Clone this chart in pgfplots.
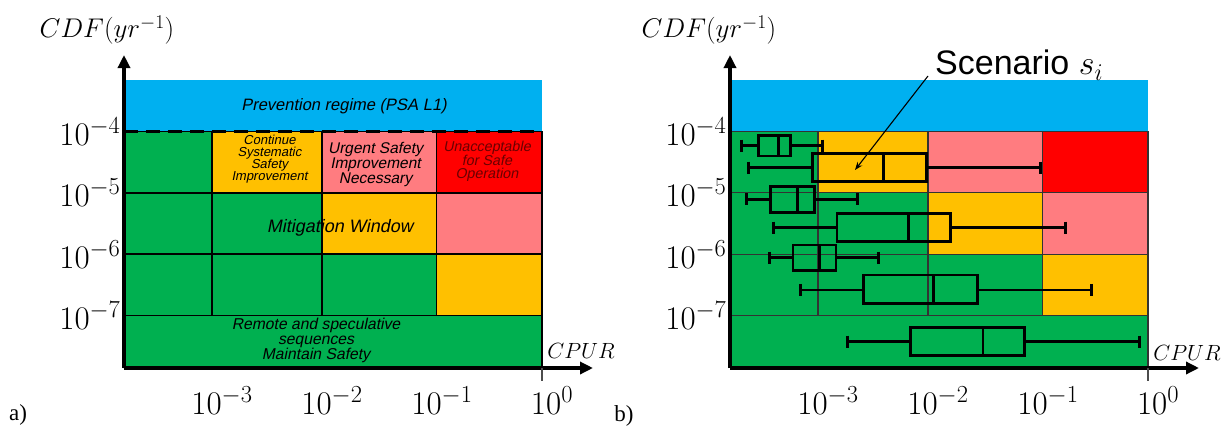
\RequirePackage{fix-cm}
\documentclass[border=0pt]{standalone}
\usepackage{pgfplots}
\pgfplotsset{compat=1.18}
\usepackage{fontspec}
\usetikzlibrary{arrows.meta}
\DeclareMathSizes{33}{33}{24.5}{17}
\DeclareMathSizes{27}{27}{19.5}{14}
\DeclareMathSizes{22}{22}{16}{11}
\DeclareMathSizes{34}{34}{24}{17}
\newfontfamily\arial{Liberation Sans}
\newfontfamily\arialit{Liberation Sans}[FakeSlant=0.2]
\newfontfamily\tnr{Liberation Serif}
\definecolor{cblue}{HTML}{00B0F0}
\definecolor{cgreen}{HTML}{00B050}
\definecolor{corange}{HTML}{FFC000}
\definecolor{cpink}{HTML}{FF7C80}
\definecolor{cred}{HTML}{FF0000}
\definecolor{cdred}{HTML}{6A0000}

% one cell of the risk map: xlo, xhi, ylo, yhi, colour, line options
\newcommand{\cell}[6]{\addplot[fill=#5, #6] coordinates {(#1,#3) (#2,#3) (#2,#4) (#1,#4)} -- cycle;}

\newcommand{\riskmap}[1]{%
  \addplot[fill=cblue, draw=none] coordinates {(1e-4,1e-4) (1,1e-4) (1,6.918e-4) (1e-4,6.918e-4)} -- cycle;
  \cell{1e-4}{1e-3}{1e-5}{1e-4}{cgreen}{#1}
  \cell{1e-3}{1e-2}{1e-5}{1e-4}{corange}{#1}
  \cell{1e-2}{0.11}{1e-5}{1e-4}{cpink}{#1}
  \cell{0.11}{1}{1e-5}{1e-4}{cred}{#1}
  \cell{1e-4}{1e-3}{1e-6}{1e-5}{cgreen}{#1}
  \cell{1e-3}{1e-2}{1e-6}{1e-5}{cgreen}{#1}
  \cell{1e-2}{0.11}{1e-6}{1e-5}{corange}{#1}
  \cell{0.11}{1}{1e-6}{1e-5}{cpink}{#1}
  \cell{1e-4}{1e-3}{1e-7}{1e-6}{cgreen}{#1}
  \cell{1e-3}{1e-2}{1e-7}{1e-6}{cgreen}{#1}
  \cell{1e-2}{0.11}{1e-7}{1e-6}{cgreen}{#1}
  \cell{0.11}{1}{1e-7}{1e-6}{corange}{#1}
  \cell{1e-4}{1}{1e-9}{1e-7}{cgreen}{#1}
}

% horizontal box plot: whisker low, q1, median, q3, whisker high, box bottom, centre, box top
\newcommand{\bx}[8]{%
  \addplot[line width=2.8pt, mark=|, mark size=6pt, mark options={solid, line width=2.8pt}] coordinates {(#1,#7) (#2,#7)};
  \addplot[line width=2.8pt, mark=|, mark size=6pt, mark options={solid, line width=2.8pt}] coordinates {(#4,#7) (#5,#7)};
  \addplot[line width=2.8pt] coordinates {(#2,#6) (#4,#6) (#4,#8) (#2,#8)} -- cycle;
  \addplot[line width=2.8pt] coordinates {(#3,#6) (#3,#8)};
}

\begin{document}
\begin{tikzpicture}[x=1pt,y=1pt]
\path[use as bounding box] (0,0) rectangle (1223,428);

% ---------------- panel a
\begin{axis}[
  at={(124pt,60pt)}, anchor=south west,
  scale only axis, width=469pt, height=313pt,
  xmode=log, ymode=log,
  xmin=1.58489e-4, xmax=2.9087, ymin=1.3932e-8, ymax=1.7701e-3,
  axis lines=left, axis on top,
  axis line style={line width=3.5pt, -{Triangle[length=13pt,width=12pt]}},
  xtick={1e-3,1e-2,1e-1,1}, ytick={1e-7,1e-6,1e-5,1e-4},
  major tick length=0pt, minor tick length=0pt,
  ticklabel style={font=\fontsize{33}{33}\selectfont},
  xticklabel style={anchor=base, yshift=-46pt, xshift=10pt},
]
  \riskmap{draw=black, line width=1.6pt}
  \addplot[line width=3pt, dash pattern=on 14pt off 8pt] coordinates {(1.58489e-4,1e-4) (1,1e-4)};
\end{axis}

% ---------------- panel b
\begin{axis}[
  at={(730pt,60pt)}, anchor=south west,
  scale only axis, width=469pt, height=313pt,
  xmode=log, ymode=log,
  xmin=1.58489e-4, xmax=2.9087, ymin=1.3932e-8, ymax=1.7701e-3,
  axis lines=left, axis on top,
  axis line style={line width=3.5pt, -{Triangle[length=13pt,width=12pt]}},
  xtick={1e-3,1e-2,1e-1,1}, ytick={1e-7,1e-6,1e-5,1e-4},
  major tick length=0pt, minor tick length=0pt,
  ticklabel style={font=\fontsize{33}{33}\selectfont},
  xticklabel style={anchor=base, yshift=-46pt, xshift=10pt},
]
  \riskmap{draw=black!80, line width=1.1pt}
  \bx{2.00e-4}{2.87e-4}{4.37e-4}{5.59e-4}{1.09e-3}{3.99e-5}{5.87e-5}{8.54e-5}
  \bx{2.33e-4}{8.91e-4}{3.95e-3}{9.71e-3}{0.106}{1.52e-5}{2.57e-5}{4.42e-5}
  \bx{2.25e-4}{3.67e-4}{6.50e-4}{9.25e-4}{2.27e-3}{4.82e-6}{7.85e-6}{1.26e-5}
  \bx{3.94e-4}{1.49e-3}{6.61e-3}{1.60e-2}{0.177}{1.60e-6}{2.70e-6}{4.63e-6}
  \bx{3.60e-4}{5.92e-4}{1.03e-3}{1.46e-3}{3.57e-3}{5.37e-7}{8.75e-7}{1.41e-6}
  \bx{6.89e-4}{2.60e-3}{1.13e-2}{2.84e-2}{0.308}{1.58e-7}{2.61e-7}{4.57e-7}
  \bx{1.84e-3}{6.93e-3}{3.16e-2}{7.59e-2}{0.836}{2.21e-8}{3.74e-8}{6.41e-8}
\end{axis}

% ---------------- annotations, panel a
\node[font=\arialit\fontsize{16.5}{18}\selectfont] at (344,322) {Prevention regime (PSA L1)};
\node[font=\arialit\fontsize{13}{12.2}\selectfont, align=center] at (269.5,269) {Continue\\Systematic\\Safety\\Improvement};
\node[font=\arialit\fontsize{15.5}{15}\selectfont, align=center] at (375.5,263) {Urgent Safety\\Improvement\\Necessary};
\node[font=\arialit\fontsize{14.3}{12.5}\selectfont, align=center, text=cdred] at (487,267) {Unacceptable\\for Safe\\Operation};
\node[font=\arialit\fontsize{18}{20}\selectfont] at (340,199.7) {Mitigation Window};
\node[font=\arialit\fontsize{15.7}{15}\selectfont, align=center] at (316,87.3) {Remote and speculative\\sequences\\Maintain Safety};
\node[font=\fontsize{27}{27}\selectfont] at (107,398) {$CDF(yr^{-1})$};
\node[font=\fontsize{22}{22}\selectfont] at (581,77) {$CPUR$};
\node[font=\tnr\fontsize{23}{23}\selectfont] at (18,13) {a)};
\draw[line width=1.2pt, black!70] (542,60) -- (542,47);

% ---------------- annotations, panel b
\node[font=\fontsize{27}{27}\selectfont] at (709,398) {$CDF(yr^{-1})$};
\node[font=\fontsize{22}{22}\selectfont] at (1187,75) {$CPUR$};
\node[font=\tnr\fontsize{23}{23}\selectfont] at (624,12) {b)};
\draw[line width=1.2pt, black!70] (1148,60) -- (1148,47);
\node[anchor=base west, inner sep=0pt, font=\arial\fontsize{34}{34}\selectfont] at (935,353) {Scenario $s_i$};
\draw[line width=1.1pt, -{Stealth[length=8pt,width=6pt]}] (928,352) -- (855,258);
\end{tikzpicture}
\end{document}
